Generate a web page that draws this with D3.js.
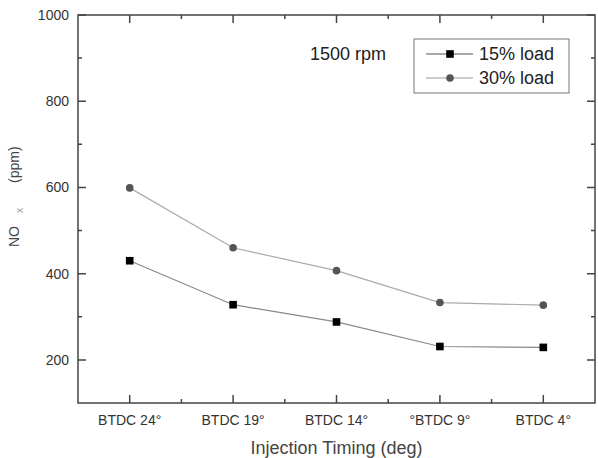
<!DOCTYPE html>
<html>
<head>
<meta charset="utf-8">
<script src="https://cdn.jsdelivr.net/npm/d3@7"></script>
<style>
  body { margin: 0; background: #fff; }
  text { font-family: "Liberation Sans", Arial, sans-serif; }
</style>
</head>
<body>
<div id="chart"></div>
<script>
// categories and series
var timings = ["BTDC 24°", "BTDC 19°", "BTDC 14°", "°BTDC 9°", "BTDC 4°"];
var load15 = [430, 328, 288, 231, 229];
var load30 = [599, 460, 407, 333, 327];
var yTicks = [200, 400, 600, 800, 1000];
var yMinor = [300, 500, 700, 900];
var seriesNames = ["15% load", "30% load"];

var W = 598, H = 458;
var margin = {top: 15, right: 3, bottom: 55, left: 78};
var width = W - margin.left - margin.right,
    height = H - margin.top - margin.bottom;

var svg = d3.select("#chart").append("svg")
    .attr("width", W)
    .attr("height", H);
var g = svg.append("g")
    .attr("transform", "translate(" + margin.left + "," + margin.top + ")");

// x is an index scale so minor ticks can sit between categories
var x = d3.scaleLinear().domain([0.5, timings.length + 0.5]).range([0, width]);
var y = d3.scaleLinear().domain([100, 1000]).range([height, 0]);

var xMajor = d3.range(1, timings.length + 1);
var xMinor = d3.range(1.5, timings.length, 1);
var axisColor = "#444";

// frame
g.append("rect")
    .attr("width", width).attr("height", height)
    .attr("fill", "none").attr("stroke", axisColor).attr("stroke-width", 1.5);

// inward ticks on all four sides, as one path built from the scales
var xt = xMajor.map(function(v) { return {v: v, len: 8}; })
    .concat(xMinor.map(function(v) { return {v: v, len: 4}; }));
var yt = yTicks.map(function(v) { return {v: v, len: 8}; })
    .concat(yMinor.map(function(v) { return {v: v, len: 4}; }));
var tp = d3.path();
xt.forEach(function(d) {
  var px = x(d.v);
  tp.moveTo(px, height); tp.lineTo(px, height - d.len);
  tp.moveTo(px, 0); tp.lineTo(px, d.len);
});
yt.forEach(function(d) {
  var py = y(d.v);
  tp.moveTo(0, py); tp.lineTo(d.len, py);
  tp.moveTo(width, py); tp.lineTo(width - d.len, py);
});
g.append("path").attr("d", tp.toString())
    .attr("fill", "none").attr("stroke", axisColor).attr("stroke-width", 1.5);

// tick labels
g.selectAll(".ylab").data(yTicks).enter().append("text")
    .attr("x", -9).attr("y", function(d) { return y(d); })
    .attr("dy", "0.35em").attr("text-anchor", "end")
    .attr("font-size", 14).attr("fill", "#333")
    .text(function(d) { return d; });
g.selectAll(".xlab").data(timings).enter().append("text")
    .attr("x", function(d, i) { return x(i + 1); }).attr("y", height + 22)
    .attr("text-anchor", "middle")
    .attr("font-size", 14).attr("fill", "#333")
    .text(function(d) { return d; });

// axis titles
g.append("text")
    .attr("x", x(3)).attr("y", height + 51)
    .attr("text-anchor", "middle").attr("font-size", 18).attr("fill", "#444")
    .text("Injection Timing (deg)");
var ytl = svg.append("text")
    .attr("transform", "translate(19,247) rotate(-90)")
    .attr("text-anchor", "start").attr("font-size", 14).attr("fill", "#444");
ytl.append("tspan").text("NO");
ytl.append("tspan").attr("font-size", 10).attr("dx", 13).attr("dy", 4).attr("fill", "#999").text("x");
ytl.append("tspan").attr("dx", 25).attr("dy", -4).text("(ppm)");

// series
var line = d3.line().x(function(d, i) { return x(i + 1); }).y(function(d) { return y(d); });
g.append("path").datum(load30).attr("d", line)
    .attr("fill", "none").attr("stroke", "#aaa").attr("stroke-width", 1.2);
g.append("path").datum(load15).attr("d", line)
    .attr("fill", "none").attr("stroke", "#888").attr("stroke-width", 1.2);

g.selectAll(".c30").data(load30).enter().append("circle")
    .attr("cx", function(d, i) { return x(i + 1); }).attr("cy", function(d) { return y(d); })
    .attr("r", 3.8).attr("fill", "#555");
g.selectAll(".s15").data(load15).enter().append("rect")
    .attr("x", function(d, i) { return x(i + 1) - 3.8; }).attr("y", function(d) { return y(d) - 3.8; })
    .attr("width", 7.6).attr("height", 7.6).attr("fill", "#000");

// annotation
svg.append("text").attr("x", 310).attr("y", 60)
    .attr("font-size", 18).attr("fill", "#222").text("1500 rpm");

// legend
var lg = svg.append("g").attr("transform", "translate(414,39)");
lg.append("rect").attr("width", 155).attr("height", 54)
    .attr("fill", "#fff").attr("stroke", "#777").attr("stroke-width", 1);
seriesNames.forEach(function(name, i) {
  var cy = 15 + i * 24;
  lg.append("line").attr("x1", 12).attr("x2", 59).attr("y1", cy).attr("y2", cy)
      .attr("stroke", i === 0 ? "#555" : "#999").attr("stroke-width", 1.2);
  if (i === 0) {
    lg.append("rect").attr("x", 36 - 3.8).attr("y", cy - 3.8)
        .attr("width", 7.6).attr("height", 7.6).attr("fill", "#000");
  } else {
    lg.append("circle").attr("cx", 36).attr("cy", cy).attr("r", 3.8).attr("fill", "#555");
  }
  lg.append("text").attr("x", 65).attr("y", cy).attr("dy", "0.35em")
      .attr("font-size", 18).attr("fill", "#222").text(name);
});
</script>
</body>
</html>
